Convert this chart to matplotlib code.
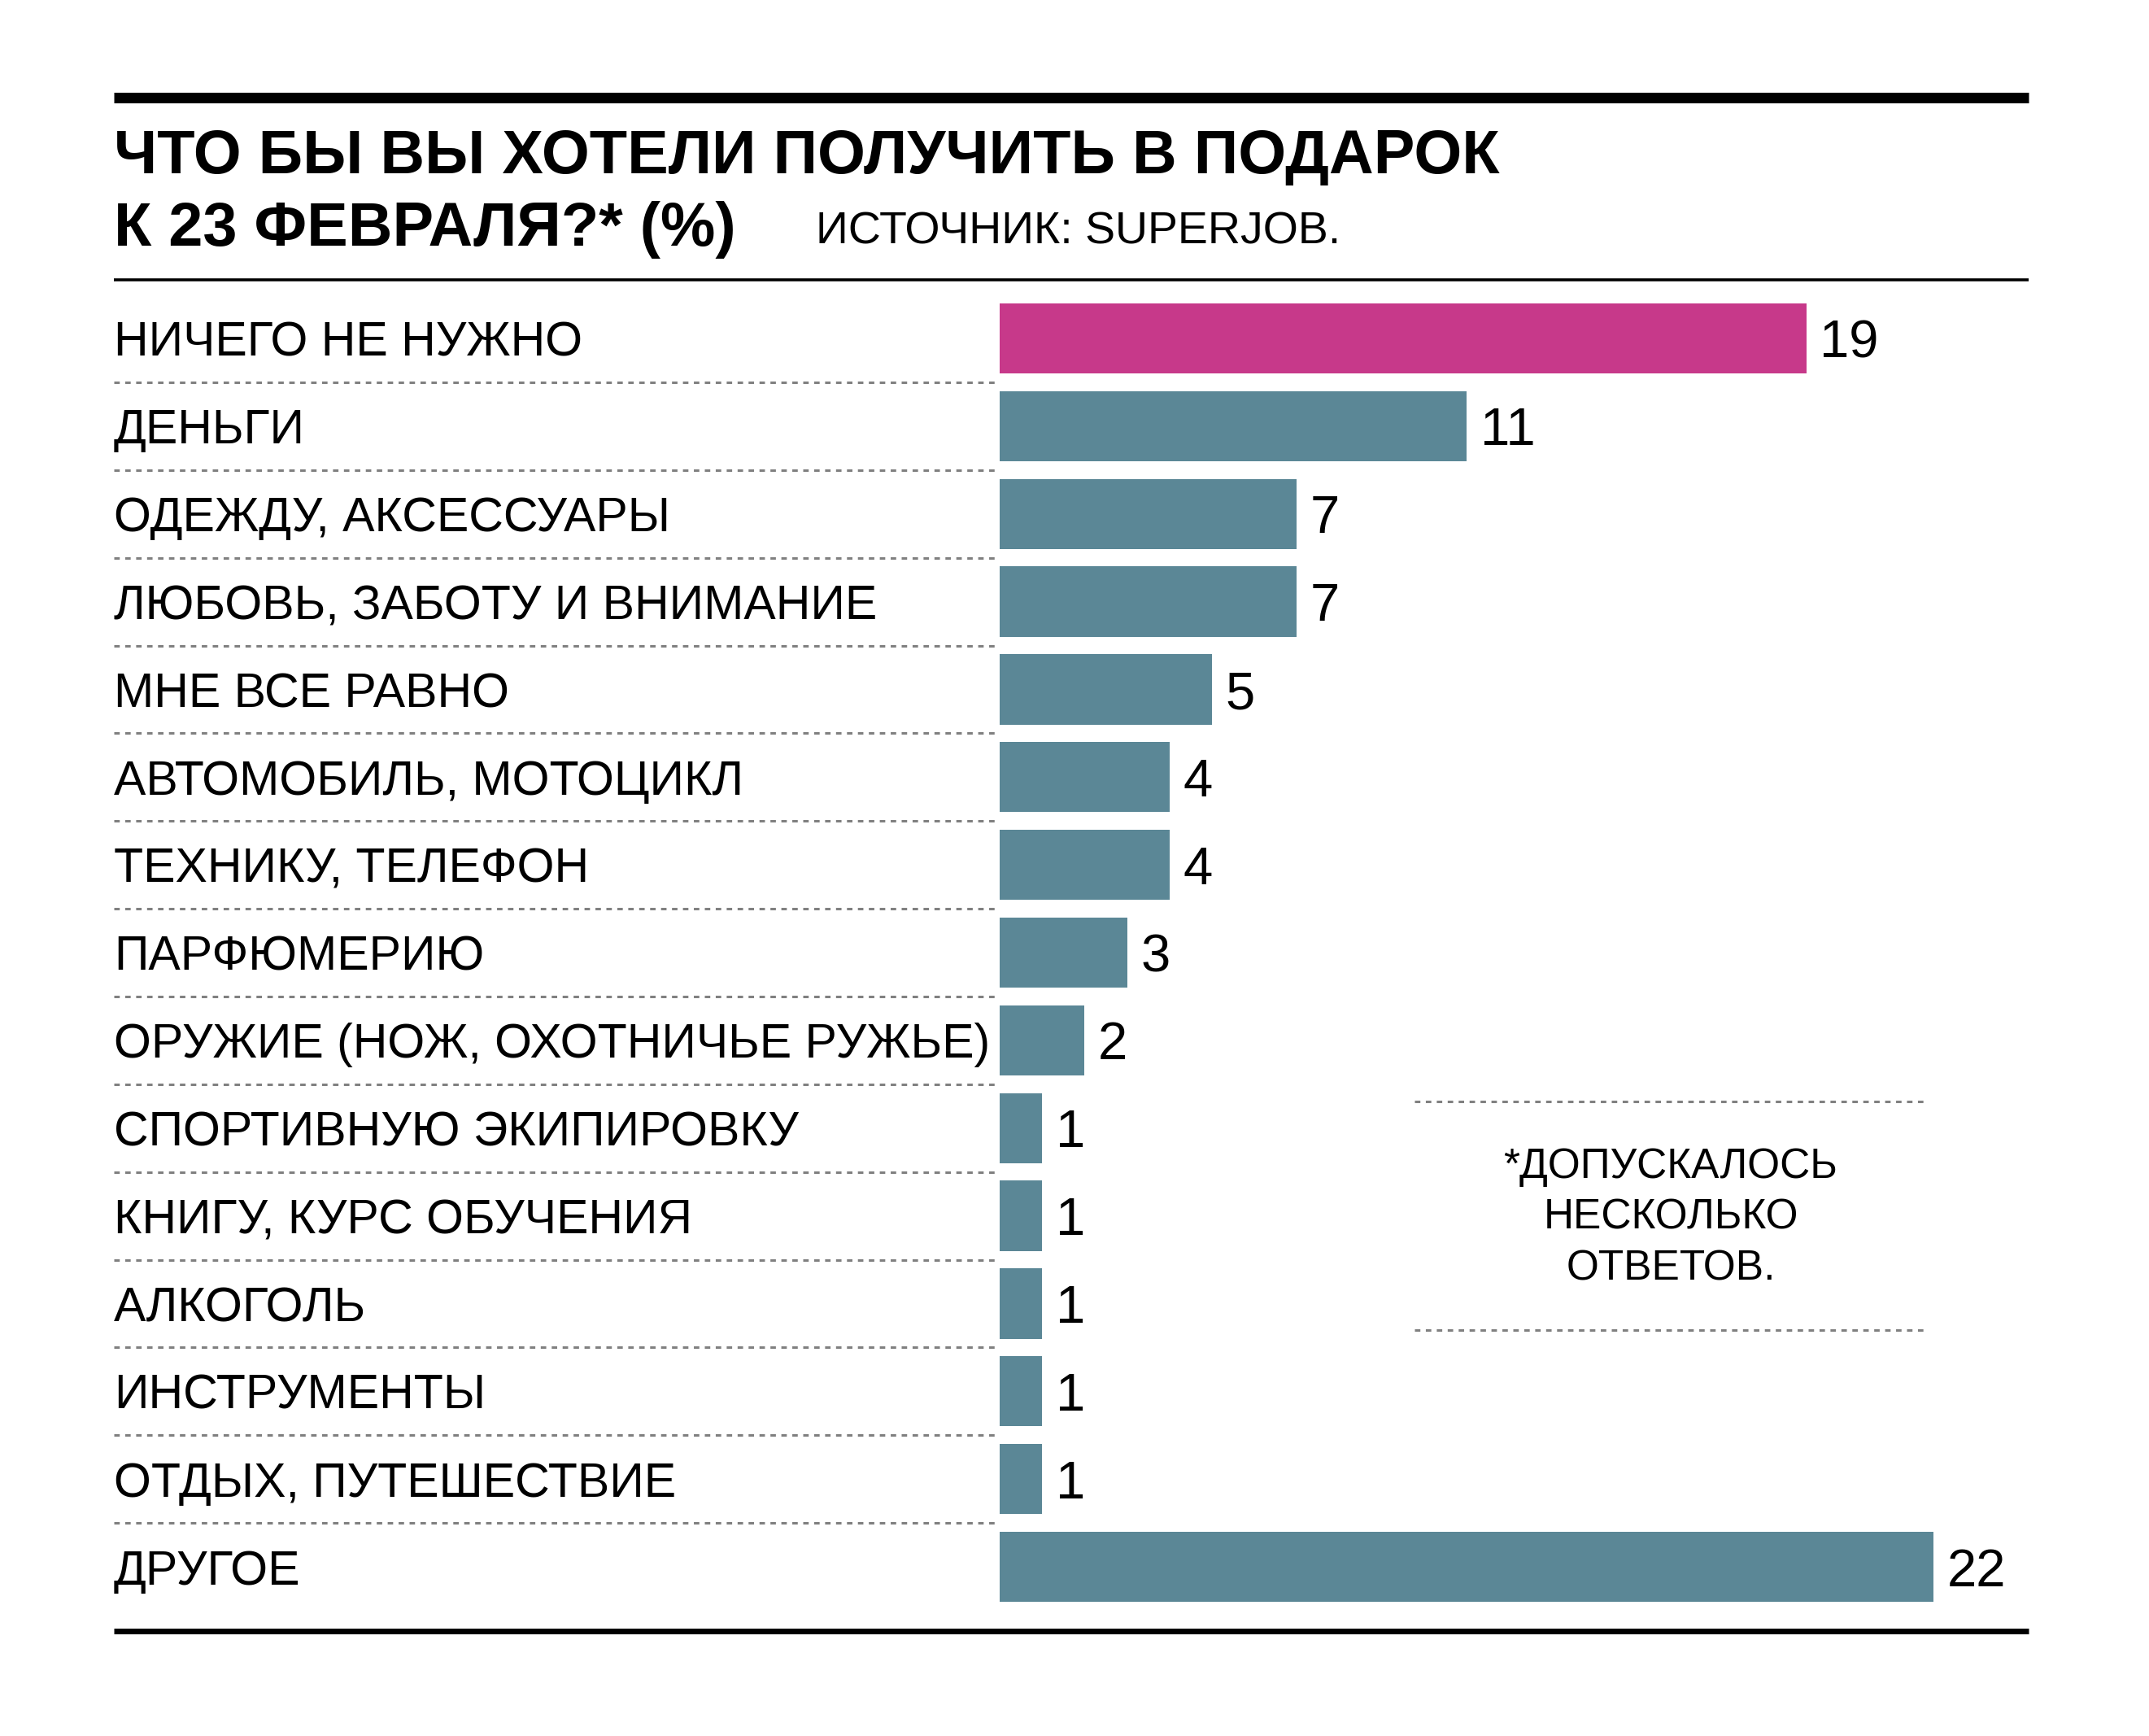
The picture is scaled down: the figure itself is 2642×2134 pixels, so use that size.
import matplotlib
matplotlib.use("Agg")
import matplotlib.pyplot as plt
from matplotlib.lines import Line2D
import matplotlib.transforms as mtransforms

plt.rcParams['font.family'] = ['Liberation Sans', 'DejaVu Sans']

categories = [
    "НИЧЕГО НЕ НУЖНО",
    "ДЕНЬГИ",
    "ОДЕЖДУ, АКСЕССУАРЫ",
    "ЛЮБОВЬ, ЗАБОТУ И ВНИМАНИЕ",
    "МНЕ ВСЕ РАВНО",
    "АВТОМОБИЛЬ, МОТОЦИКЛ",
    "ТЕХНИКУ, ТЕЛЕФОН",
    "ПАРФЮМЕРИЮ",
    "ОРУЖИЕ (НОЖ, ОХОТНИЧЬЕ РУЖЬЕ)",
    "СПОРТИВНУЮ ЭКИПИРОВКУ",
    "КНИГУ, КУРС ОБУЧЕНИЯ",
    "АЛКОГОЛЬ",
    "ИНСТРУМЕНТЫ",
    "ОТДЫХ, ПУТЕШЕСТВИЕ",
    "ДРУГОЕ",
]
values = [19, 11, 7, 7, 5, 4, 4, 3, 2, 1, 1, 1, 1, 1, 22]
highlight = [True] + [False] * 14

title_line1 = "ЧТО БЫ ВЫ ХОТЕЛИ ПОЛУЧИТЬ В ПОДАРОК"
title_line2 = "К 23 ФЕВРАЛЯ?* (%)"
source = "ИСТОЧНИК: SUPERJOB."
note = "*ДОПУСКАЛОСЬ\nНЕСКОЛЬКО\nОТВЕТОВ."

PINK = "#C7398A"
TEAL = "#5B8796"
GRAY = "#808080"

W, H = 2642, 2134
fig = plt.figure(figsize=(W / 100, H / 100), dpi=100)

def fx(px):
    return px / W

def fy(py):
    return 1 - py / H

# axes for bars
ax_left, ax_right = 1229, 2494
ax_top, ax_bot = 344, 2005
ax = fig.add_axes([fx(ax_left), fy(ax_bot), fx(ax_right - ax_left), (ax_bot - ax_top) / H])
row_px = 107.86
first_center = 416
ax.set_ylim((ax_bot - first_center) / row_px, -(first_center - ax_top) / row_px)
ax.set_xlim(0, (ax_right - ax_left) / 52.2)
ax.axis('off')

ypos = list(range(len(categories)))
colors = [PINK if h else TEAL for h in highlight]
ax.barh(ypos, values, height=0.8, color=colors, linewidth=0)

for i, v in zip(ypos, values):
    ax.annotate(str(v), (v, i), xytext=(12, -17), textcoords='offset points',
                ha='left', va='baseline', fontsize=47, color='black')

# category labels
trans = mtransforms.blended_transform_factory(fig.transFigure, ax.transData)
for i, c in zip(ypos, categories):
    ax.text(fx(140), i + 0.2, c, transform=trans, ha='left', va='baseline',
            fontsize=42.5, color='black', clip_on=False)

# row separators
for i in ypos[:-1]:
    ln = Line2D([fx(140), fx(1225)], [i + 0.5, i + 0.5], transform=trans,
                color=GRAY, lw=2.2, linestyle=(0, (2.2, 2.2)), clip_on=False)
    ax.add_line(ln)

# frame lines
fig.add_artist(Line2D([fx(140), fx(2494)], [fy(120), fy(120)], color='black', lw=9.4, solid_capstyle='butt'))
fig.add_artist(Line2D([fx(140), fx(2494)], [fy(344), fy(344)], color='black', lw=2.6, solid_capstyle='butt'))
fig.add_artist(Line2D([fx(140), fx(2494)], [fy(2005), fy(2005)], color='black', lw=5.0, solid_capstyle='butt'))

# titles
fig.text(fx(140), fy(213), title_line1, fontsize=54.5, fontweight='bold', ha='left', va='baseline')
fig.text(fx(140), fy(302), title_line2, fontsize=54.5, fontweight='bold', ha='left', va='baseline')
fig.text(fx(1003), fy(299), source, fontsize=40, ha='left', va='baseline')

# note box
for yy in (1354, 1635):
    fig.add_artist(Line2D([fx(1739), fx(2369)], [fy(yy), fy(yy)], color=GRAY, lw=2.2,
                          linestyle=(0, (2.2, 2.2))))
fig.text(fx(2054), fy(1497), note, fontsize=37, ha='center', va='center',
         multialignment='center', linespacing=1.36)

fig.savefig("out.png", dpi=100, facecolor='white')
